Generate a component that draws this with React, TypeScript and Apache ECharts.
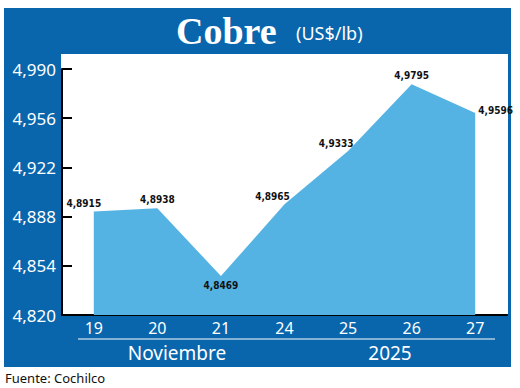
import React, { useEffect, useRef } from "react";
import * as echarts from "echarts";

const categories = ["19", "20", "21", "24", "25", "26", "27"];
const values = [4.8915, 4.8938, 4.8469, 4.8965, 4.9333, 4.9795, 4.9596];
const labelPositions = ["topleft", "top", "bottom", "topleft", "topleft", "top", "right"];
const yTicks = [4.82, 4.854, 4.888, 4.922, 4.956, 4.99];
const yMin = 4.82;
const yMax = 4.99;
const monthLabel = "Noviembre";
const yearLabel = "2025";
const titleMain = "Cobre";
const titleUnit = "(US$/lb)";
const sourceText = "Fuente: Cochilco";

const BLUE = "#0966ad";
const AREA = "#55b3e3";
const SANS = "'Noto Sans', 'Open Sans', sans-serif";
const COND = "'Liberation Sans Narrow', 'DejaVu Sans Condensed', Roboto, sans-serif";

const fmt = (v: number, d: number) => v.toFixed(d).replace(".", ",");

export default function App() {
  const ref = useRef<HTMLDivElement>(null);
  useEffect(() => {
    if (!ref.current) return;
    const chart = echarts.init(ref.current, undefined, { renderer: "svg" });
    const data = values.map((v, i) => {
      let pos = labelPositions[i];
      let offset = [0, 0];
      let distance = 4;
      if (pos === "topleft") { pos = "top"; offset = [i === 0 ? -10 : -12, 0]; distance = 3; }
      if (pos === "right") { offset = [0, -2]; distance = 3; }
      return {
        value: v,
        label: { position: pos, offset, distance },
      };
    });
    chart.setOption({
      animation: false,
      backgroundColor: "#ffffff",
      graphic: [
        { type: "rect", z: -20, shape: { x: 4, y: 8, width: 507, height: 359 }, style: { fill: BLUE } },
        { type: "rect", z: -19, shape: { x: 61, y: 54, width: 447, height: 260 }, style: { fill: "#ffffff" } },
        {
          type: "text", z: 10, x: 176, y: 31,
          style: { text: titleMain, fill: "#ffffff", font: "bold 38px 'Liberation Serif', 'DejaVu Serif', serif", verticalAlign: "middle" },
        },
        {
          type: "text", z: 10, x: 296, y: 33,
          style: { text: titleUnit, fill: "#ffffff", font: `18px ${SANS}`, verticalAlign: "middle" },
        },
        { type: "line", z: 10, shape: { x1: 78, y1: 339, x2: 495, y2: 339 }, style: { stroke: "#ffffff", lineWidth: 1 } },
        {
          type: "text", z: 10, x: 177, y: 353,
          style: { text: monthLabel, fill: "#ffffff", font: `19px ${SANS}`, align: "center", verticalAlign: "middle" },
        },
        {
          type: "text", z: 10, x: 390, y: 353,
          style: { text: yearLabel, fill: "#ffffff", font: `19px ${SANS}`, align: "center", verticalAlign: "middle" },
        },
        {
          type: "text", z: 10, x: 5, y: 378,
          style: { text: sourceText, fill: "#111111", font: `13px ${SANS}`, verticalAlign: "middle" },
        },
      ],
      grid: { left: 62, right: 13, top: 69, bottom: 73 },
      xAxis: {
        type: "category",
        data: categories,
        boundaryGap: true,
        axisLine: { show: true, lineStyle: { color: "#000000", width: 2 } },
        axisTick: { show: false },
        axisLabel: { color: "#ffffff", fontSize: 16, fontFamily: SANS, margin: 5 },
      },
      yAxis: {
        type: "value",
        min: yMin,
        max: yMax,
        splitLine: { show: false },
        axisLine: { show: true, lineStyle: { color: "#000000", width: 2 } },
        axisTick: { show: true, inside: true, length: 10, lineStyle: { color: "#000000", width: 2 }, customValues: yTicks },
        axisLabel: {
          color: "#ffffff", fontSize: 17, fontFamily: SANS, margin: 6,
          customValues: yTicks,
          formatter: (v: number) => fmt(v, 3),
        },
      },
      series: [
        {
          type: "line",
          data,
          symbol: "circle",
          symbolSize: 0,
          showSymbol: true,
          lineStyle: { width: 0, color: AREA },
          itemStyle: { color: AREA },
          areaStyle: { color: AREA, opacity: 1 },
          label: {
            show: true,
            color: "#111111",
            fontSize: 10,
            fontWeight: "bold",
            fontFamily: COND,
            formatter: (p: any) => fmt(p.value, 4),
          },
        },
      ],
    });
    return () => chart.dispose();
  }, []);
  return <div ref={ref} style={{ position: "fixed", left: 0, top: 0, width: 520, height: 388 }} />;
}
